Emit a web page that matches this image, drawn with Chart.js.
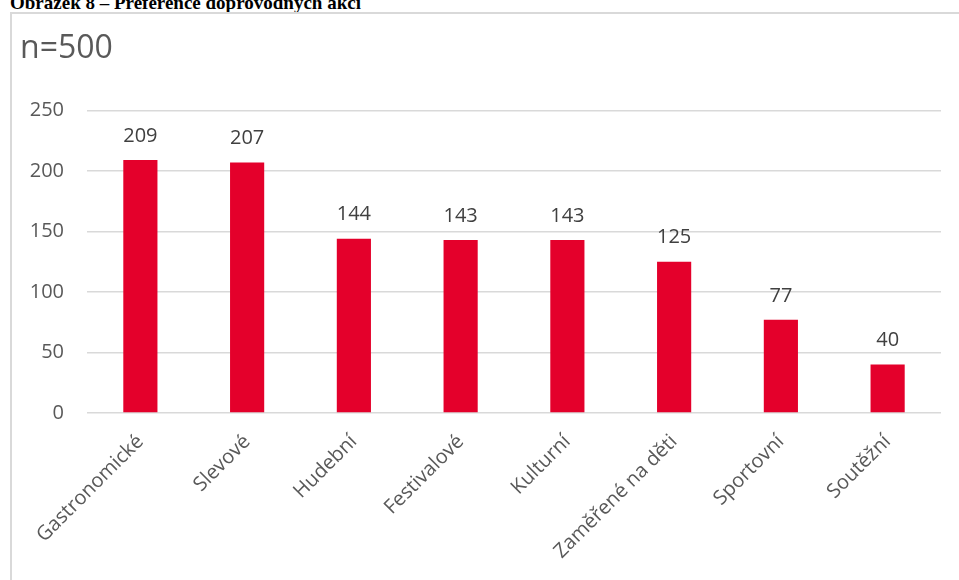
<!DOCTYPE html>
<html>
<head>
<meta charset="utf-8">
<script src="https://cdn.jsdelivr.net/npm/chart.js@4.4.1/dist/chart.umd.min.js"></script>
<style>
  body { margin: 0; background: #fff; overflow: hidden; }
  #caption { position: absolute; left: 10px; top: -7px; font: bold 19px/19px "Liberation Serif", serif; color: #000; white-space: nowrap; }
  #box { position: absolute; left: 10px; top: 12px; width: 960px; height: 600px; border: 2px solid #d9d9d9; }
  #myChart { position: absolute; left: 0; top: 0; }
</style>
</head>
<body>
<div id="caption">Obrázek 8 – Preference doprovodných akcí</div>
<div id="box"><canvas id="myChart" width="947" height="566"></canvas></div>
<script>
var categories = ["Gastronomické", "Slevové", "Hudební", "Festivalové", "Kulturní", "Zaměřené na děti", "Sportovní", "Soutěžní"];
var counts = [209, 207, 144, 143, 143, 125, 77, 40];
var yTicks = [0, 50, 100, 150, 200, 250];

// values above bars, placed from the bar elements
var barLabels = {
  id: 'barLabels',
  afterDatasetsDraw: function(chart) {
    var ctx = chart.ctx;
    var meta = chart.getDatasetMeta(0);
    ctx.save();
    ctx.font = '20px "Open Sans"';
    ctx.fillStyle = '#404040';
    ctx.textAlign = 'center';
    ctx.textBaseline = 'middle';
    meta.data.forEach(function(bar, i) {
      ctx.fillText(chart.data.datasets[0].data[i], bar.x, bar.y - 24);
    });
    ctx.restore();
  }
};

var ctx = document.getElementById("myChart");
var myChart = new Chart(ctx, {
  type: 'bar',
  plugins: [barLabels],
  data: {
    labels: categories,
    datasets: [{
      data: counts,
      backgroundColor: '#e4002b',
      barPercentage: 0.32,
      categoryPercentage: 1
    }]
  },
  options: {
    responsive: false,
    animation: false,
    layout: { padding: { left: 8, right: 18, top: 0, bottom: 0 } },
    plugins: {
      legend: { display: false },
      tooltip: { enabled: false },
      title: {
        display: true,
        text: 'n=500',
        align: 'start',
        color: '#595959',
        font: { family: '"Open Sans"', size: 32, weight: 'normal' },
        padding: { top: 16, bottom: 42 }
      }
    },
    scales: {
      y: {
        min: 0,
        max: 250,
        afterBuildTicks: function(s) { s.ticks = yTicks.map(function(v) { return { value: v }; }); },
        afterFit: function(s) { s.width = 67; },
        grid: { color: '#d9d9d9', lineWidth: 1.5, drawTicks: false },
        border: { display: false },
        ticks: { color: '#595959', font: { family: '"Open Sans"', size: 20 }, padding: 23 }
      },
      x: {
        afterFit: function(s) { s.height = 167; },
        grid: { display: false },
        border: { display: false },
        ticks: {
          color: '#595959',
          font: { family: '"Open Sans"', size: 20 },
          maxRotation: 45,
          minRotation: 45,
          padding: 9
        }
      }
    }
  }
});
</script>
</body>
</html>
